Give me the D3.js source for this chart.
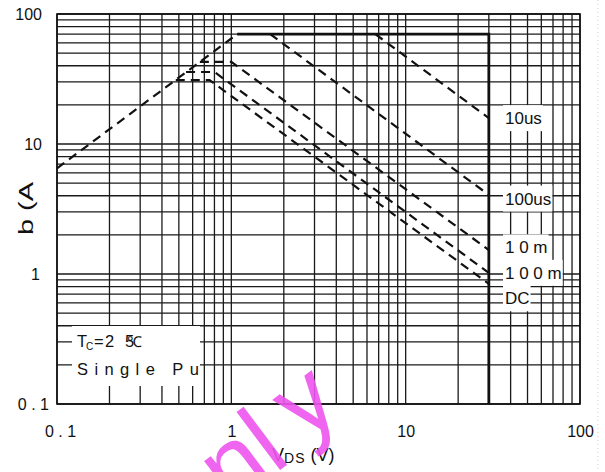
<!DOCTYPE html>
<html>
<head>
<meta charset="utf-8">
<script src="https://cdnjs.cloudflare.com/ajax/libs/d3/7.8.5/d3.min.js"></script>
<style>
body { margin: 0; background: #fff; }
svg { display: block; }
text { font-family: "Liberation Sans", Arial, sans-serif; fill: #111; }
</style>
</head>
<body>
<svg id="soa" width="605" height="472"></svg>
<script>
// safe operating area curves [V, A]
var rdsLimit = [[0.1, 6.5], [1.08, 70]];
var pkgLimit = [[1.08, 70], [30, 70], [30, 0.1]];
var curve10us = [[6.7, 70], [30, 15.8]];
var curve100us = [[1.67, 70], [30, 4.06]];
var curve10ms = [[0.66, 42.8], [1.0, 42.8], [30, 1.53]];
var curve100ms = [[0.55, 35.8], [0.8, 35.8], [30, 1.02]];
var curveDC = [[0.48, 31], [0.75, 31], [30, 0.84]];

var curveLabels = ["10us", "100us", "1 0 m", "1 0 0 m", "DC"];
var labelCurrent = [15.8, 3.8, 1.6, 1.02, 0.65];

var xTickValues = [0.1, 1, 10, 100];
var xTickLabels = ["0 . 1", "1", "10", "100"];
var yTickValues = [0.1, 1, 10, 100];
var yTickLabels = ["0 . 1", "1", "10", "100"];

var svg = d3.select("#soa");
// plot box (note: "top" is taken by window, so pl/pr/pt/pb)
var pl = 57, pr = 580, pt = 14, pb = 404;

var x = d3.scaleLog().domain([0.1, 100]).range([pl, pr]);
var y = d3.scaleLog().domain([0.1, 100]).range([pb, pt]);

// log grid, every 1..9 of each decade
var grid = svg.append("g").attr("stroke", "#1a1a1a").attr("stroke-width", 1.3);
grid.selectAll(".vgrid").data(x.ticks()).enter().append("line")
	.attr("class", "vgrid")
	.attr("x1", function(d) { return x(d); }).attr("x2", function(d) { return x(d); })
	.attr("y1", pt).attr("y2", pb);
grid.selectAll(".hgrid").data(y.ticks()).enter().append("line")
	.attr("class", "hgrid")
	.attr("y1", function(d) { return y(d); }).attr("y2", function(d) { return y(d); })
	.attr("x1", pl).attr("x2", pr);

svg.append("rect")
	.attr("x", pl).attr("y", pt)
	.attr("width", pr - pl).attr("height", pb - pt)
	.attr("fill", "none").attr("stroke", "#111").attr("stroke-width", 1.6);

// faint border of the scan at the right
svg.append("line")
	.attr("x1", 598).attr("x2", 598).attr("y1", 0).attr("y2", 472)
	.attr("stroke", "#d0d0d0").attr("stroke-dasharray", "1,3");

// axes: only the labels, the grid does the rest
var xAxis = svg.append("g")
	.attr("transform", "translate(0," + pb + ")")
	.call(d3.axisBottom(x).tickValues(xTickValues).tickSize(0).tickPadding(22)
		.tickFormat(function(d, i) { return xTickLabels[i]; }));
xAxis.select(".domain").remove();
xAxis.selectAll("text").attr("font-size", 16).attr("font-family", null).attr("fill", "#111")
	.attr("dx", function(d, i) { return i == 0 ? 3 : 0; });

var yAxis = svg.append("g")
	.attr("transform", "translate(" + pl + ",0)")
	.call(d3.axisLeft(y).tickValues(yTickValues).tickSize(0).tickPadding(15)
		.tickFormat(function(d, i) { return yTickLabels[i]; }));
yAxis.select(".domain").remove();
yAxis.selectAll("text").attr("font-size", 16).attr("font-family", null).attr("fill", "#111")
	.attr("dx", function(d, i) { return i == 0 ? 7 : (i == 1 ? -2 : 0); });

// axis titles
var xt = svg.append("text").attr("x", 272).attr("y", 461).attr("font-size", 18);
xt.append("tspan").text("V");
xt.append("tspan").attr("font-size", 14).attr("dy", 2).attr("letter-spacing", 1).text("DS");
xt.append("tspan").attr("dy", -2).text(" (V)");

svg.append("text")
	.attr("transform", "translate(33,235) rotate(-90)")
	.attr("font-size", 20)
	.attr("textLength", 53).attr("lengthAdjust", "spacingAndGlyphs")
	.text("b (A");

// curve labels on white patches
var lab = svg.append("g");
curveLabels.forEach(function(t, i) {
	var g = lab.append("g");
	var txt = g.append("text")
		.attr("x", 505).attr("y", y(labelCurrent[i]))
		.attr("dy", "0.35em").attr("font-size", 17)
		.text(t);
	var bb = txt.node().getBBox();
	g.insert("rect", "text")
		.attr("x", bb.x - 2).attr("y", bb.y - 4)
		.attr("width", bb.width + 3).attr("height", bb.height + 7)
		.attr("fill", "#fff");
});

// condition box
svg.append("rect").attr("x", 72).attr("y", 326).attr("width", 128).attr("height", 60).attr("fill", "#fff");
var tc = svg.append("text").attr("y", 347).attr("font-size", 16.5);
tc.append("tspan").attr("x", 77).text("T");
tc.append("tspan").attr("x", 86).attr("dy", 3).attr("font-size", 10).text("C");
tc.append("tspan").attr("x", 94).attr("dy", -3).text("=");
tc.append("tspan").attr("x", 105).text("2");
tc.append("tspan").attr("x", 125).text("5");
tc.append("tspan").attr("x", 127).attr("font-size", 15).text("\u2103");
svg.append("text").attr("x", 77).attr("y", 375).attr("font-size", 16.5)
	.attr("letter-spacing", 6.4).text("Single Pu");

// the curves
var line = d3.line()
	.x(function(d) { return x(d[0]); })
	.y(function(d) { return y(d[1]); });

var dashed = [rdsLimit, curve10us, curve100us, curve10ms, curve100ms, curveDC];
svg.selectAll(".soaDash").data(dashed).enter().append("path")
	.attr("class", "soaDash")
	.attr("d", line)
	.attr("fill", "none").attr("stroke", "#111")
	.attr("stroke-width", 2.2).attr("stroke-dasharray", "9,6");

svg.append("path")
	.attr("d", line(pkgLimit))
	.attr("fill", "none").attr("stroke", "#111").attr("stroke-width", 2.8);

// watermark of the scan
var wm = svg.append("text")
	.attr("transform", "translate(186,541) rotate(-37)")
	.attr("font-size", 100)
	.style("fill", "#ee55ee").attr("opacity", 0.9);
wm.append("tspan").text("onl");
wm.append("tspan").attr("dx", 20).attr("dy", -8).text("y");
</script>
</body>
</html>
